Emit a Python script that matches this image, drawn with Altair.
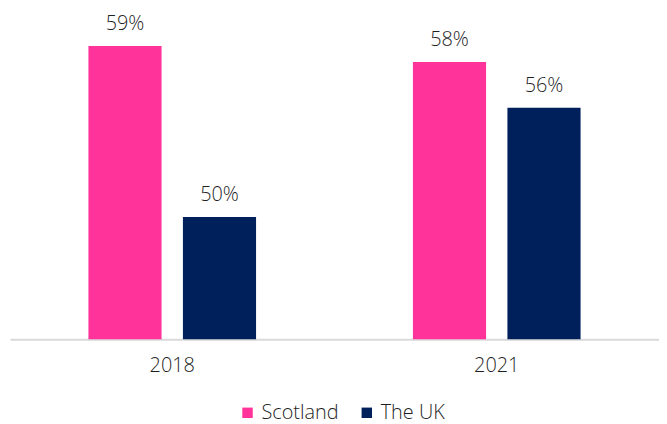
import altair as alt
import pandas as pd

years = ["2018", "2018", "2021", "2021"]
regions = ["Scotland", "The UK", "Scotland", "The UK"]
values = [59.2, 50.15, 58.36, 55.94]
labels = ["59%", "50%", "58%", "56%"]

series = ["Scotland", "The UK"]
colors = ["#FF3399", "#00205B"]
y_min, y_max = 43.68, 61.15

df = pd.DataFrame({"year": years, "region": regions, "value": values, "label": labels})

FONT = "Open Sans"
W = 300
TXT = "#1f1f1f"
FS = 20

base = alt.Chart(df).encode(
    x=alt.X(
        "year:N",
        title=None,
        scale=alt.Scale(paddingInner=0, paddingOuter=0),
        axis=alt.Axis(
            labelAngle=0, ticks=False, domainColor="#d9d9d9", domainWidth=2,
            labelFontSize=FS, labelColor=TXT, labelFont=FONT, labelFontWeight=W,
            labelPadding=16, grid=False,
        ),
    ),
    xOffset=alt.XOffset(
        "region:N", sort=series,
        scale=alt.Scale(paddingInner=0.226, paddingOuter=0.83),
    ),
    y=alt.Y("value:Q", axis=None,
            scale=alt.Scale(domain=[y_min, y_max], zero=False, nice=False)),
)

bars = base.mark_bar().encode(
    y2=alt.datum(y_min),
    color=alt.Color(
        "region:N",
        scale=alt.Scale(domain=series, range=colors),
        legend=alt.Legend(
            orient="none", legendX=229, legendY=396, direction="horizontal",
            title=None, symbolType="square", symbolSize=110,
            symbolStrokeWidth=0, labelFontSize=FS, labelColor=TXT, labelFont=FONT,
            labelFontWeight=W, labelOffset=4, columnPadding=18,
        ),
    ),
)

text = base.mark_text(dy=-16, baseline="alphabetic", fontSize=FS, color=TXT,
                      font=FONT, fontWeight=W).encode(text="label:N")

chart = (bars + text).properties(
    width=653, height=332,
    padding={"left": 2, "top": 0, "right": 0, "bottom": 0},
).configure_view(stroke=None)

chart.save("out.html", embed_options={"renderer": "svg", "actions": False})
